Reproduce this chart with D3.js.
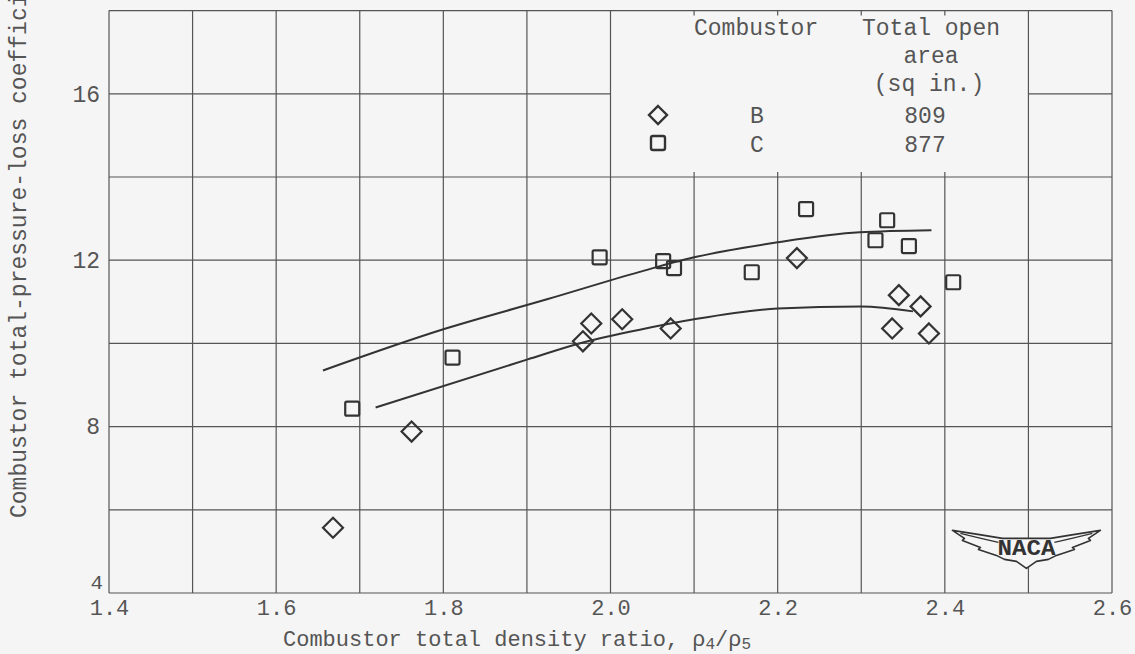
<!DOCTYPE html>
<html>
<head>
<meta charset="utf-8">
<script src="https://cdn.jsdelivr.net/npm/d3@7/dist/d3.min.js"></script>
<style>
  html, body { margin: 0; padding: 0; background: #f5f5f5; }
  svg { display: block; }
  text { font-family: "Liberation Mono", "DejaVu Sans Mono", monospace; fill: #555; }
</style>
</head>
<body>
<svg id="chart" width="1135" height="654"></svg>
<script>
// ---- data ----
const xTickLabels = [1.4, 1.6, 1.8, 2.0, 2.2, 2.4, 2.6];
const yTickLabels = [4, 8, 12, 16];

// Combustor B (diamonds)
const combBx = [1.668, 1.762, 1.967, 1.977, 2.014, 2.072, 2.223, 2.345, 2.371, 2.337, 2.381];
const combBy = [5.57, 7.88, 10.05, 10.48, 10.58, 10.36, 12.05, 11.16, 10.89, 10.36, 10.24];

// Combustor C (squares)
const combCx = [1.691, 1.811, 1.987, 2.063, 2.076, 2.169, 2.234, 2.317, 2.331, 2.357, 2.410];
const combCy = [8.43, 9.66, 12.07, 11.98, 11.81, 11.71, 13.23, 12.48, 12.96, 12.34, 11.47];

// faired curves
const curveCx = [1.656, 1.8, 1.924, 2.035, 2.1, 2.2, 2.298, 2.384];
const curveCy = [9.35, 10.34, 11.06, 11.72, 12.07, 12.43, 12.67, 12.72];
const curveBx = [1.719, 1.9, 1.967, 2.035, 2.1, 2.2, 2.3, 2.362];
const curveBy = [8.46, 9.61, 10.02, 10.33, 10.58, 10.84, 10.89, 10.77];

const legendCombustors = ["B", "C"];
const legendAreas = ["809", "877"];

// ---- drawing ----
const svg = d3.select("#chart");
const x = d3.scaleLinear().domain([1.4, 2.6]).range([109, 1112]);
const y = d3.scaleLinear().domain([4, 18]).range([593, 10.6]);

const gridColor = "#555";
const ink = "#333";

const grid = svg.append("g").attr("stroke", gridColor).attr("stroke-width", 1.2).attr("fill", "none");

const xGrid = d3.range(14, 27).map(d => d / 10);
const yGrid = d3.range(4, 19, 2);
const blankX = [2.0, 2.5];   // legend box columns
const blankY = [14, 18];     // legend box rows

xGrid.forEach(v => {
  const inBlank = v > blankX[0] + 1e-9 && v < blankX[1] - 1e-9;
  if (inBlank) {
    grid.append("line").attr("x1", x(v)).attr("x2", x(v)).attr("y1", y(blankY[0])).attr("y2", y(4));
    grid.append("line").attr("x1", x(v)).attr("x2", x(v)).attr("y1", y(blankY[0])).attr("y2", y(blankY[0]) - 5);
    grid.append("line").attr("x1", x(v)).attr("x2", x(v)).attr("y1", y(18)).attr("y2", y(18) + 5);
  } else {
    grid.append("line").attr("x1", x(v)).attr("x2", x(v)).attr("y1", y(18)).attr("y2", y(4));
  }
});
yGrid.forEach(v => {
  const inBlank = v > blankY[0] + 1e-9 && v < blankY[1] - 1e-9;
  if (inBlank) {
    grid.append("line").attr("x1", x(1.4)).attr("x2", x(blankX[0])).attr("y1", y(v)).attr("y2", y(v));
    grid.append("line").attr("x1", x(blankX[1])).attr("x2", x(2.6)).attr("y1", y(v)).attr("y2", y(v));
  } else {
    grid.append("line").attr("x1", x(1.4)).attr("x2", x(2.6)).attr("y1", y(v)).attr("y2", y(v));
  }
});

// axes (labels only)
const xAxis = svg.append("g").attr("transform", `translate(0,${y(4)})`)
  .call(d3.axisBottom(x).tickValues(xTickLabels).tickFormat(d3.format(".1f")).tickSize(0).tickPadding(6));
xAxis.select(".domain").remove();
xAxis.selectAll("text").attr("font-size", 22).attr("fill", "#555")
  .attr("font-family", "Liberation Mono, monospace");

const yAxis = svg.append("g").attr("transform", `translate(${x(1.4)},0)`)
  .call(d3.axisLeft(y).tickValues(yTickLabels).tickFormat(d3.format("d")).tickSize(0).tickPadding(9));
yAxis.select(".domain").remove();
yAxis.selectAll("text").attr("font-size", 23).attr("fill", "#555")
  .attr("font-family", "Liberation Mono, monospace");
yAxis.selectAll(".tick").filter(d => d === 4).select("text")
  .attr("dy", "-0.2em").attr("x", -6).attr("font-size", 21);

// axis titles
const xt = svg.append("text").attr("x", 283).attr("y", 646).attr("font-size", 22);
xt.append("tspan").text("Combustor total density ratio, ρ");
xt.append("tspan").attr("font-size", 16).attr("dy", 3).text("4");
xt.append("tspan").attr("dy", -3).text("/ρ");
xt.append("tspan").attr("font-size", 16).attr("dy", 3).text("5");

svg.append("text").attr("transform", "translate(26,518) rotate(-90)")
  .attr("font-size", 23).text("Combustor total-pressure-loss coefficient");

// curves
const line = d3.line().x(d => x(d[0])).y(d => y(d[1])).curve(d3.curveMonotoneX);
[[curveCx, curveCy], [curveBx, curveBy]].forEach(([xs, ys]) => {
  svg.append("path").datum(xs.map((v, i) => [v, ys[i]]))
    .attr("d", line).attr("fill", "none").attr("stroke", ink).attr("stroke-width", 2);
});

// markers
const diamond = (cx, cy, r) => `M${cx},${cy - r}L${cx + r},${cy}L${cx},${cy + r}L${cx - r},${cy}Z`;
svg.append("g").selectAll("path").data(combBx.map((v, i) => [v, combBy[i]])).join("path")
  .attr("d", d => diamond(x(d[0]), y(d[1]), 10))
  .attr("fill", "none").attr("stroke", ink).attr("stroke-width", 2.2);
svg.append("g").selectAll("rect").data(combCx.map((v, i) => [v, combCy[i]])).join("rect")
  .attr("x", d => x(d[0]) - 7).attr("y", d => y(d[1]) - 7).attr("width", 14).attr("height", 14)
  .attr("rx", 1.5).attr("fill", "none").attr("stroke", ink).attr("stroke-width", 2.2);

// legend
const lg = svg.append("g").attr("font-size", 23);
lg.append("text").attr("x", 694).attr("y", 35).text("Combustor");
lg.append("text").attr("x", 931).attr("y", 35).attr("text-anchor", "middle").text("Total open");
lg.append("text").attr("x", 931).attr("y", 63).attr("text-anchor", "middle").text("area");
lg.append("text").attr("x", 929).attr("y", 91).attr("text-anchor", "middle").text("(sq in.)");
const rowsY = [123, 152];
legendCombustors.forEach((c, i) => {
  lg.append("text").attr("x", 757).attr("y", rowsY[i]).attr("text-anchor", "middle").text(c);
  lg.append("text").attr("x", 925).attr("y", rowsY[i]).attr("text-anchor", "middle").text(legendAreas[i]);
});
lg.append("path").attr("d", diamond(658, 115, 9)).attr("fill", "none").attr("stroke", ink).attr("stroke-width", 2.4);
lg.append("rect").attr("x", 651).attr("y", 136).attr("width", 14).attr("height", 14).attr("rx", 2)
  .attr("fill", "none").attr("stroke", ink).attr("stroke-width", 2.4);

// NACA logo
const logo = svg.append("g").attr("transform", `translate(${x(2.5) - 2},${y(5) - 3})`);
logo.append("path")
  .attr("d", "M-74,-18 Q-48,-14 -24,-10 L24,-10 Q48,-14 74,-18 L62,-10 L64,-8 L46,-1 L48,1 L30,7 L22,11 L10,13 L0,20 L-10,13 L-22,11 L-30,7 L-48,1 L-46,-1 L-64,-8 L-62,-10 Z")
  .attr("fill", "#f5f5f5").attr("stroke", ink).attr("stroke-width", 1.6).attr("stroke-linejoin", "round");
logo.append("path").attr("d", "M-66,-15 Q-46,-10 -28,-6 M66,-15 Q46,-10 28,-6")
  .attr("fill", "none").attr("stroke", ink).attr("stroke-width", 1.2);
logo.append("text").attr("x", 0).attr("y", 7).attr("text-anchor", "middle")
  .attr("font-family", "Liberation Sans, Arial, sans-serif").attr("font-weight", "bold")
  .attr("font-size", 22).attr("textLength", 58).attr("lengthAdjust", "spacingAndGlyphs")
  .style("fill", "#333").text("NACA");
</script>
</body>
</html>
